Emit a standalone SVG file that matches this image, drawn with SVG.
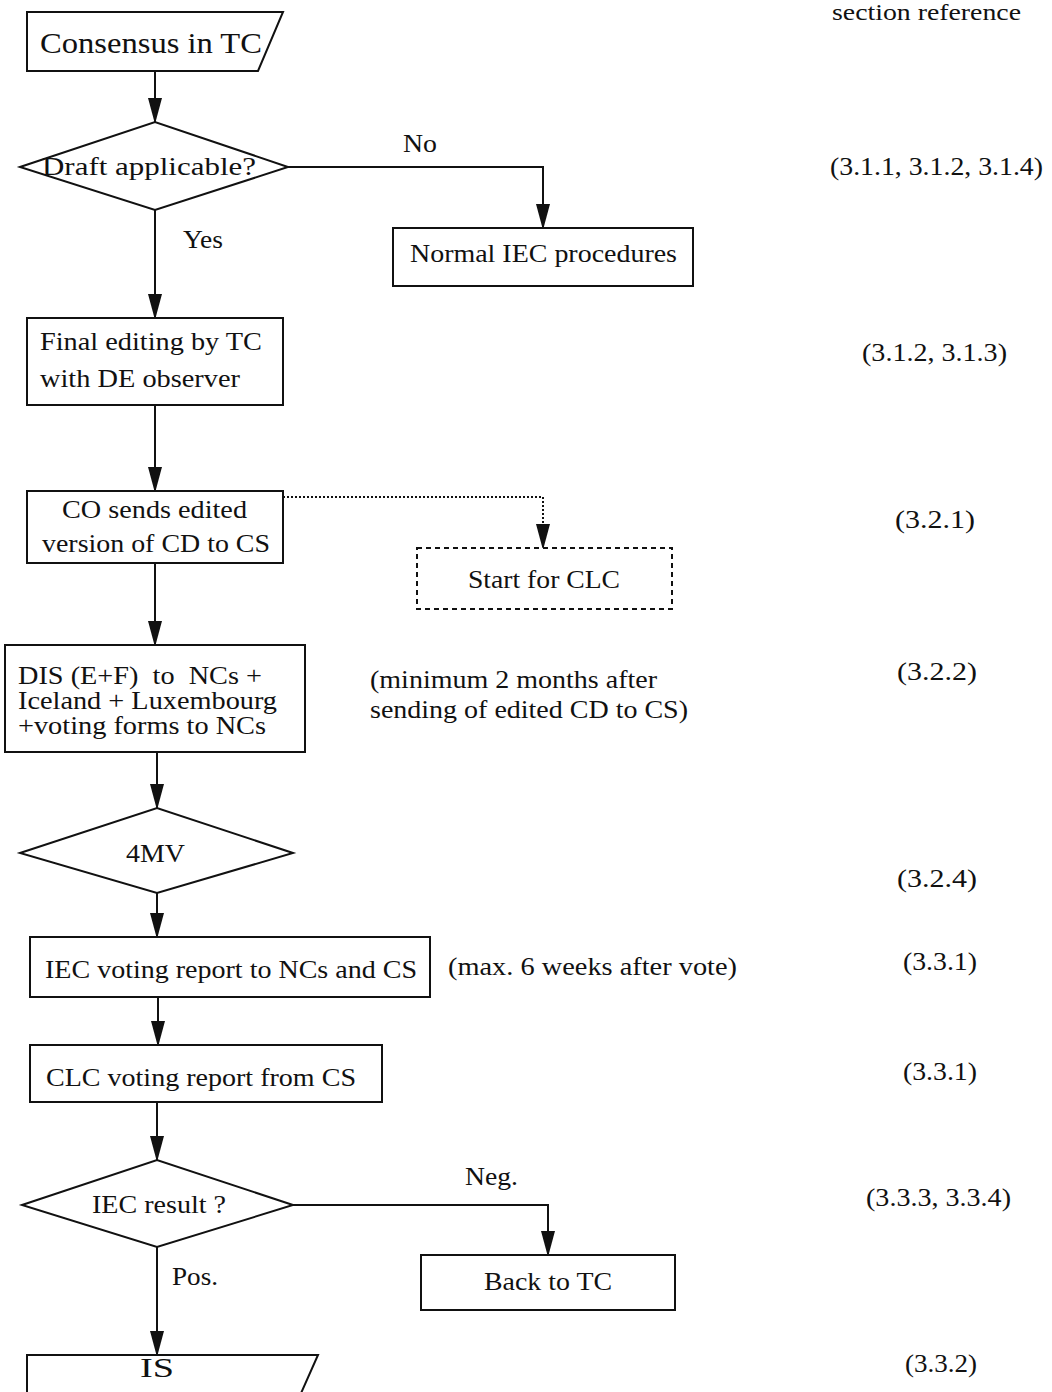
<svg xmlns="http://www.w3.org/2000/svg" width="1052" height="1392" viewBox="0 0 1052 1392">
<style>
text{font-family:"Liberation Serif","Times New Roman",serif;fill:#111;}
.t{font-size:25px;}
.s{font-size:23px;}
.shape{fill:#fff;stroke:#111;stroke-width:2;}
.dash{fill:#fff;stroke:#111;stroke-width:2;stroke-dasharray:5,4;}
.c{fill:none;stroke:#111;stroke-width:2;}
.dot{fill:none;stroke:#111;stroke-width:2;stroke-dasharray:2,2;}
</style>
<defs>
<marker id="ahr" markerUnits="userSpaceOnUse" markerWidth="26" markerHeight="14" refX="24" refY="7" orient="auto" viewBox="0 0 26 14">
<path d="M0,0 L26,7 L0,14 Z" fill="#111"/>
</marker>
</defs>
<rect width="1052" height="1392" fill="#fff"/>

<g id="connectors">
<line class="c" x1="155" y1="71" x2="155" y2="122" marker-end="url(#ahr)"/>
<polyline class="c" points="288,167 543,167 543,228" marker-end="url(#ahr)"/>
<line class="c" x1="155" y1="210" x2="155" y2="318" marker-end="url(#ahr)"/>
<line class="c" x1="155" y1="405" x2="155" y2="491" marker-end="url(#ahr)"/>
<polyline class="dot" points="283,497 543,497 543,548" marker-end="url(#ahr)"/>
<line class="c" x1="155" y1="563" x2="155" y2="645" marker-end="url(#ahr)"/>
<line class="c" x1="157" y1="752" x2="157" y2="808" marker-end="url(#ahr)"/>
<line class="c" x1="157" y1="893" x2="157" y2="937" marker-end="url(#ahr)"/>
<line class="c" x1="158" y1="997" x2="158" y2="1045" marker-end="url(#ahr)"/>
<line class="c" x1="157" y1="1102" x2="157" y2="1160" marker-end="url(#ahr)"/>
<polyline class="c" points="293,1205 548,1205 548,1255" marker-end="url(#ahr)"/>
<line class="c" x1="157" y1="1247" x2="157" y2="1355" marker-end="url(#ahr)"/>
<text class="t" x="403" y="152" textLength="34" lengthAdjust="spacingAndGlyphs">No</text>
<text class="t" x="183" y="248" textLength="40" lengthAdjust="spacingAndGlyphs">Yes</text>
<text class="t" x="465" y="1185" textLength="53" lengthAdjust="spacingAndGlyphs">Neg.</text>
<text class="t" x="172" y="1285" textLength="46" lengthAdjust="spacingAndGlyphs">Pos.</text>
</g>

<g id="n-consensus">
<path class="shape" d="M27,12 L283,12 L258,71 L27,71 Z"/>
<text x="40" y="53" font-size="30" textLength="222" lengthAdjust="spacingAndGlyphs">Consensus in TC</text>
</g>

<g id="n-draft">
<polygon class="shape" points="20,167 155,122 288,167 155,210"/>
<text class="t" x="42" y="175" textLength="214" lengthAdjust="spacingAndGlyphs">Draft applicable?</text>
</g>

<g id="n-normal">
<rect class="shape" x="393" y="228" width="300" height="58"/>
<text class="t" x="410" y="262" textLength="267" lengthAdjust="spacingAndGlyphs">Normal IEC procedures</text>
</g>

<g id="n-final">
<rect class="shape" x="27" y="318" width="256" height="87"/>
<text class="t" x="40" y="350" textLength="222" lengthAdjust="spacingAndGlyphs">Final editing by TC</text>
<text class="t" x="40" y="387" textLength="200" lengthAdjust="spacingAndGlyphs">with DE observer</text>
</g>

<g id="n-cosends">
<rect class="shape" x="27" y="491" width="256" height="72"/>
<text class="t" x="62" y="518" textLength="185" lengthAdjust="spacingAndGlyphs">CO sends edited</text>
<text class="t" x="42" y="552" textLength="228" lengthAdjust="spacingAndGlyphs">version of CD to CS</text>
</g>

<g id="n-startclc">
<rect class="dash" x="417" y="548" width="255" height="61"/>
<text class="t" x="468" y="588" textLength="152" lengthAdjust="spacingAndGlyphs">Start for CLC</text>
</g>

<g id="n-dis">
<rect class="shape" x="5" y="645" width="300" height="107"/>
<text class="t" x="18" y="684" textLength="244" lengthAdjust="spacingAndGlyphs" xml:space="preserve">DIS (E+F)  to  NCs +</text>
<text class="t" x="18" y="709" textLength="259" lengthAdjust="spacingAndGlyphs">Iceland + Luxembourg</text>
<text class="t" x="18" y="734" textLength="248" lengthAdjust="spacingAndGlyphs">+voting forms to NCs</text>
</g>

<g id="note-minimum">
<text class="t" x="370" y="688" textLength="287" lengthAdjust="spacingAndGlyphs">(minimum 2 months after</text>
<text class="t" x="370" y="718" textLength="318" lengthAdjust="spacingAndGlyphs">sending of edited CD to CS)</text>
</g>

<g id="n-4mv">
<polygon class="shape" points="20,853 157,808 293,853 157,893"/>
<text class="t" x="126" y="862" textLength="59" lengthAdjust="spacingAndGlyphs">4MV</text>
</g>

<g id="n-iecvoting">
<rect class="shape" x="30" y="937" width="400" height="60"/>
<text class="t" x="45" y="978" textLength="372" lengthAdjust="spacingAndGlyphs">IEC voting report to NCs and CS</text>
</g>

<g id="note-max">
<text class="t" x="448" y="975" textLength="289" lengthAdjust="spacingAndGlyphs">(max. 6 weeks after vote)</text>
</g>

<g id="n-clcvoting">
<rect class="shape" x="30" y="1045" width="352" height="57"/>
<text class="t" x="46" y="1086" textLength="310" lengthAdjust="spacingAndGlyphs">CLC voting report from CS</text>
</g>

<g id="n-iecresult">
<polygon class="shape" points="22,1205 157,1160 293,1205 157,1247"/>
<text class="t" x="92" y="1213" textLength="134" lengthAdjust="spacingAndGlyphs">IEC result ?</text>
</g>

<g id="n-back">
<rect class="shape" x="421" y="1255" width="254" height="55"/>
<text class="t" x="484" y="1290" textLength="128" lengthAdjust="spacingAndGlyphs">Back to TC</text>
</g>

<g id="n-is">
<path class="shape" d="M27,1400 L27,1355 L318,1355 L298,1400"/>
<text x="140" y="1377" font-size="27" textLength="34" lengthAdjust="spacingAndGlyphs">IS</text>
</g>

<g id="section-refs">
<text class="s" x="832" y="20" textLength="189" lengthAdjust="spacingAndGlyphs">section reference</text>
<text class="t" x="830" y="175" textLength="213" lengthAdjust="spacingAndGlyphs">(3.1.1, 3.1.2, 3.1.4)</text>
<text class="t" x="862" y="361" textLength="145" lengthAdjust="spacingAndGlyphs">(3.1.2, 3.1.3)</text>
<text class="t" x="895" y="528" textLength="80" lengthAdjust="spacingAndGlyphs">(3.2.1)</text>
<text class="t" x="897" y="680" textLength="80" lengthAdjust="spacingAndGlyphs">(3.2.2)</text>
<text class="t" x="897" y="887" textLength="80" lengthAdjust="spacingAndGlyphs">(3.2.4)</text>
<text class="t" x="903" y="970" textLength="74" lengthAdjust="spacingAndGlyphs">(3.3.1)</text>
<text class="t" x="903" y="1080" textLength="74" lengthAdjust="spacingAndGlyphs">(3.3.1)</text>
<text class="t" x="866" y="1206" textLength="145" lengthAdjust="spacingAndGlyphs">(3.3.3, 3.3.4)</text>
<text class="t" x="905" y="1372" textLength="72" lengthAdjust="spacingAndGlyphs">(3.3.2)</text>
</g>
</svg>
